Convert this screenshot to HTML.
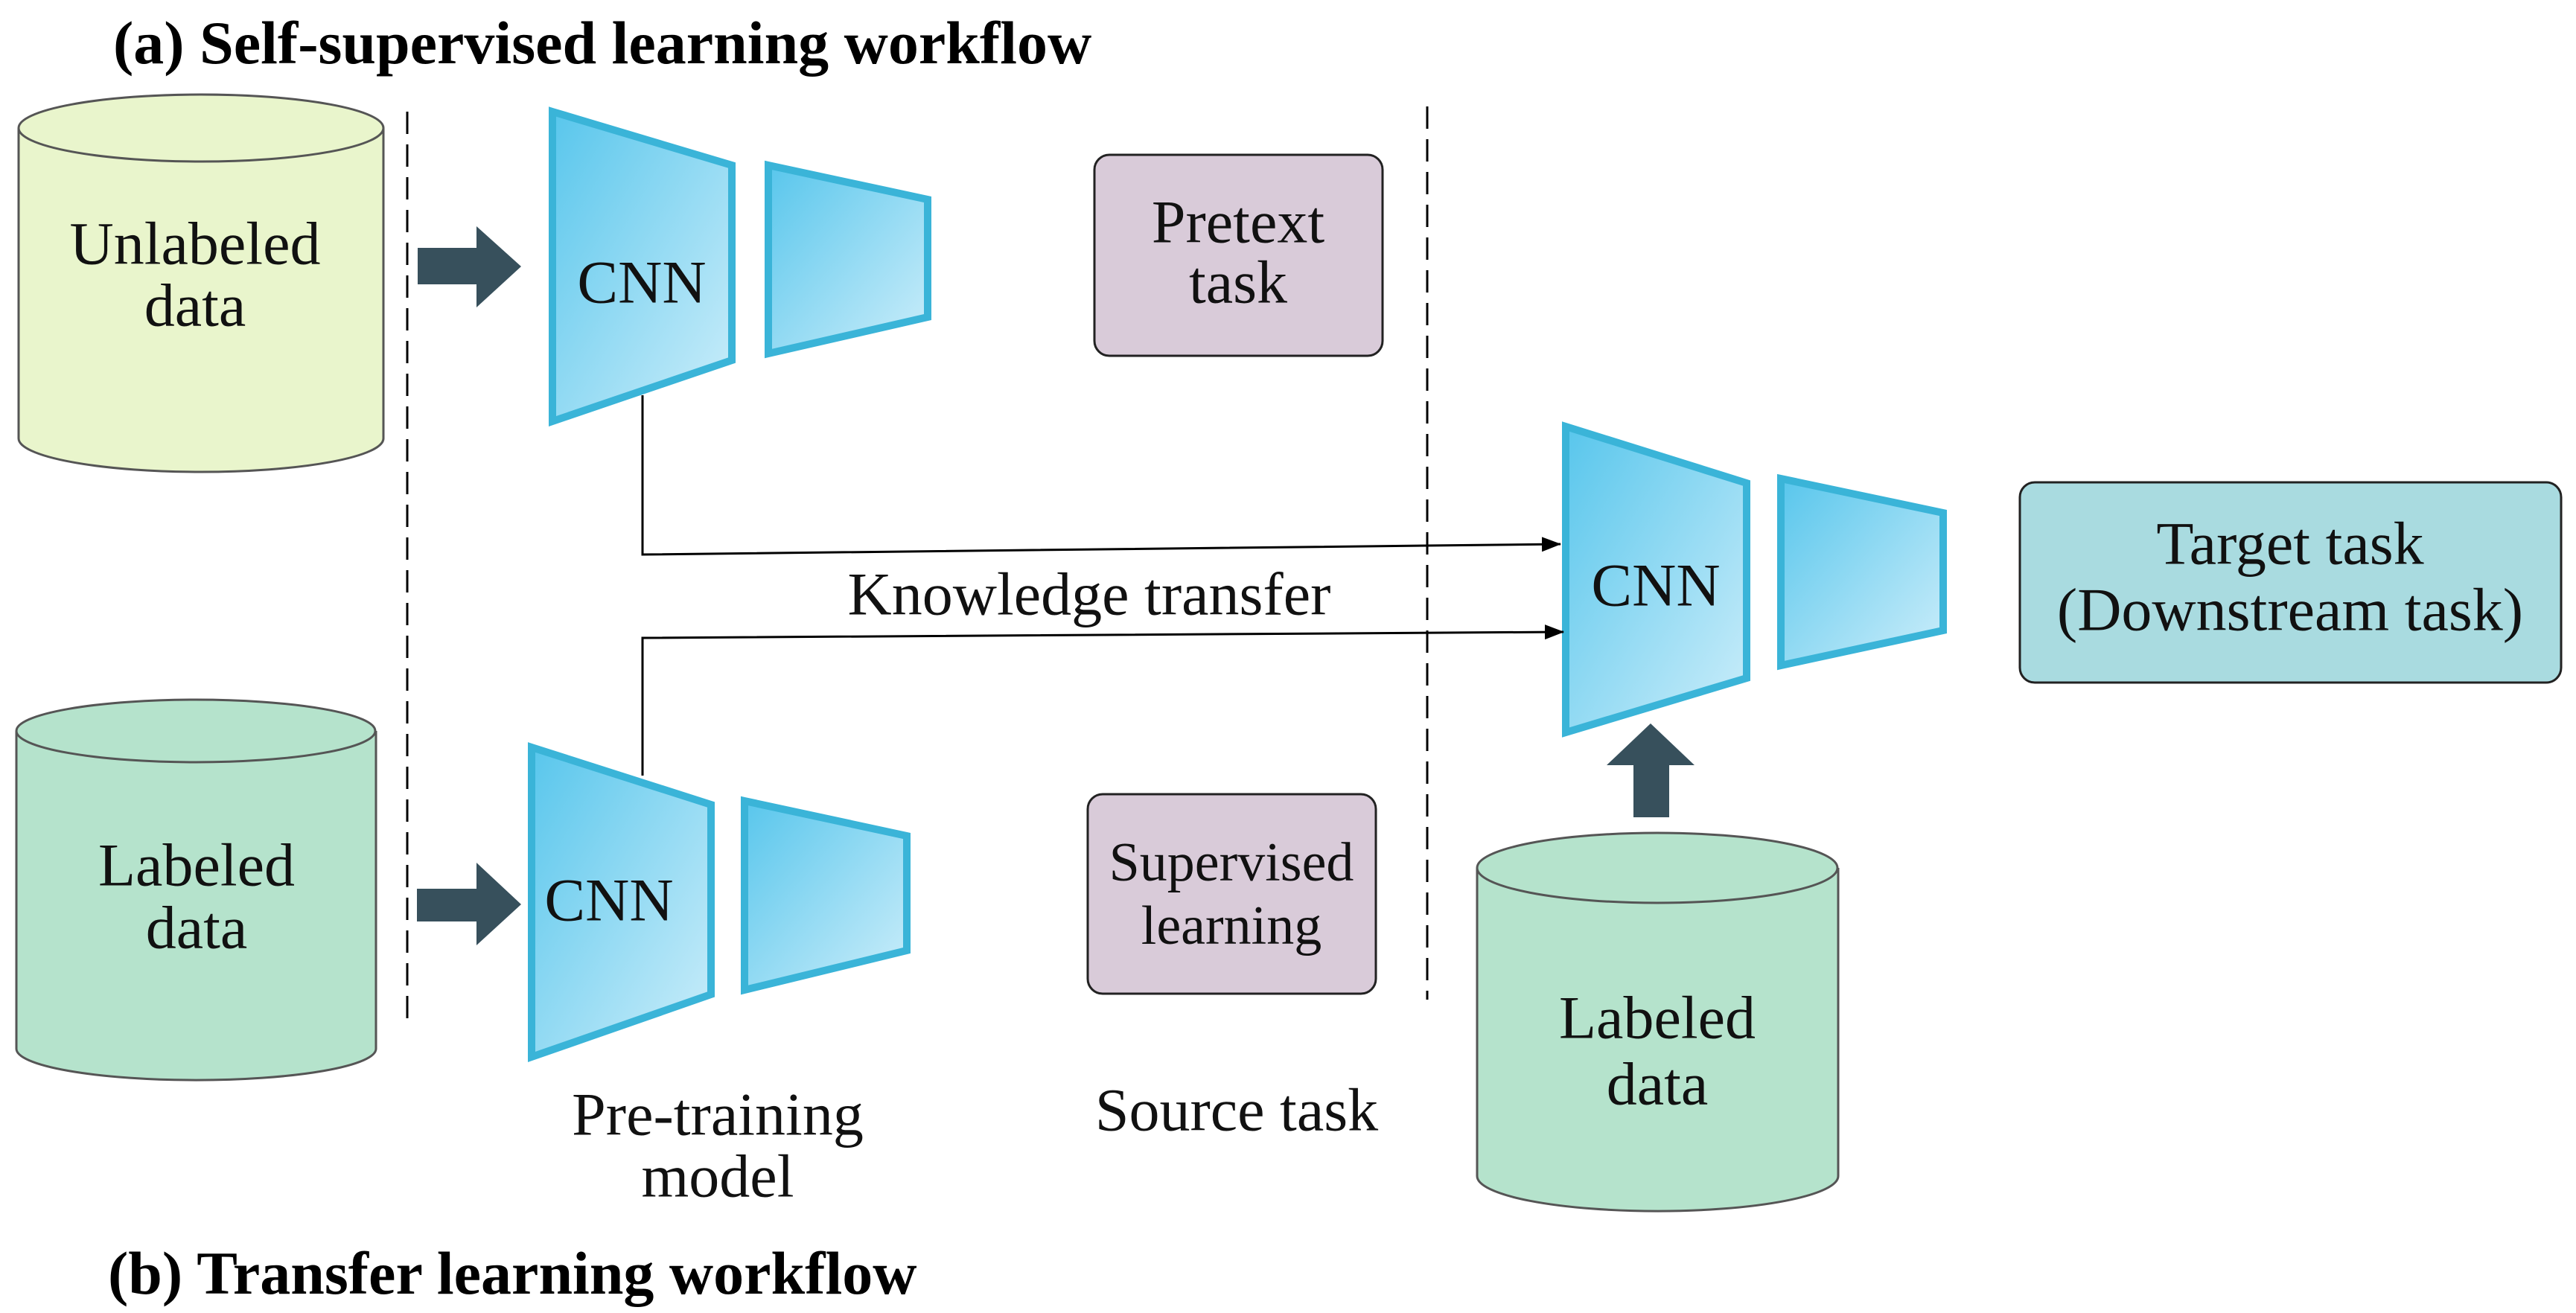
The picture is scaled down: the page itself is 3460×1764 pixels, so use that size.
<!DOCTYPE html>
<html><head><meta charset="utf-8"><style>html,body{margin:0;padding:0;background:#fff}svg{display:block}</style></head><body>
<svg width="3460" height="1764" viewBox="0 0 3460 1764" xmlns="http://www.w3.org/2000/svg" font-family="'Liberation Serif', serif">
<defs>
<linearGradient id="g" x1="0" y1="0" x2="1" y2="1"><stop offset="0" stop-color="#58c6ec"/><stop offset="1" stop-color="#cdeefa"/></linearGradient>
<marker id="ah" markerWidth="26" markerHeight="20" refX="25" refY="10" orient="auto" markerUnits="userSpaceOnUse" viewBox="0 0 26 20"><path d="M0,0 L26,10 L0,20 z" fill="#000"/></marker>
</defs>
<g font-size="82" font-weight="bold">
<text x="152" y="85">(a) Self-supervised learning workflow</text>
<text x="145" y="1738">(b) Transfer learning workflow</text>
</g>
<!-- cylinders -->
<g stroke="#555" stroke-width="3">
<path d="M25,172 L25,589 A245,45 0 0 0 515,589 L515,172" fill="#e9f5cc"/>
<ellipse cx="270" cy="172" rx="245" ry="45" fill="#e9f5cc"/>
<path d="M22,982 L22,1409 A241,42 0 0 0 505,1409 L505,982" fill="#b5e3cc"/>
<ellipse cx="263" cy="982" rx="241" ry="42" fill="#b5e3cc"/>
<path d="M1984,1166 L1984,1580 A242,47 0 0 0 2469,1580 L2469,1166" fill="#b5e3cc"/>
<ellipse cx="2226" cy="1166" rx="242" ry="47" fill="#b5e3cc"/>
</g>
<!-- dashed -->
<g stroke="#000" stroke-width="3" stroke-dasharray="30,14">
<line x1="547" y1="150" x2="547" y2="1372"/>
<line x1="1917" y1="143" x2="1917" y2="1343"/>
</g>
<!-- block arrows -->
<g fill="#37505c">
<path d="M561,333 L640,333 L640,304 L700,358 L640,413 L640,382 L561,382 z"/>
<path d="M560,1194 L640,1194 L640,1159 L700,1215 L640,1270 L640,1238 L560,1238 z"/>
<path d="M2194,1098 L2194,1028 L2158,1028 L2217,972 L2276,1028 L2242,1028 L2242,1098 z"/>
</g>
<!-- trapezoids -->
<g fill="url(#g)" stroke="#3ab4d8" stroke-width="10" stroke-linejoin="miter">
<polygon points="742,150 983,222 983,484 742,566"/>
<polygon points="1032,222 1246,268 1246,426 1032,475"/>
<polygon points="714,1004 955,1081 955,1336 714,1420"/>
<polygon points="1000,1076 1218,1123 1218,1277 1000,1330"/>
<polygon points="2103,573 2346,649 2346,911 2103,984"/>
<polygon points="2392,643 2610,689 2610,847 2392,894"/>
</g>
<!-- boxes -->
<g stroke="#222" stroke-width="3">
<rect x="1470" y="208" width="387" height="270" rx="20" fill="#d9cbd9"/>
<rect x="1461" y="1067" width="387" height="268" rx="20" fill="#d9cbd9"/>
<rect x="2713" y="648" width="727" height="269" rx="20" fill="#a9dbe0"/>
</g>
<!-- connectors -->
<g stroke="#000" stroke-width="3" fill="none">
<polyline points="863,531 863,745 2096,731" marker-end="url(#ah)"/>
<polyline points="863,1042 863,857 2100,849" marker-end="url(#ah)"/>
</g>
<g font-size="82" text-anchor="middle" dominant-baseline="central" fill="#111">
<text x="262" y="327">Unlabeled</text><text x="262" y="410">data</text>
<text x="264" y="1162">Labeled</text><text x="264" y="1246">data</text>
<text x="2226" y="1367">Labeled</text><text x="2226" y="1456">data</text>
<text x="862" y="379">CNN</text>
<text x="818" y="1209">CNN</text>
<text x="2224" y="786">CNN</text>
<text x="1663" y="298">Pretext</text><text x="1663" y="379">task</text>
<text x="3076" y="730">Target task</text><text x="3076" y="819">(Downstream task)</text>
<text x="1463" y="798">Knowledge transfer</text>
<text x="964" y="1497">Pre-training</text><text x="964" y="1580">model</text>
<text x="1661" y="1491">Source task</text>
<text x="1654" y="1159" font-size="74">Supervised</text><text x="1654" y="1244" font-size="74">learning</text>
</g>
</svg>
</body></html>
